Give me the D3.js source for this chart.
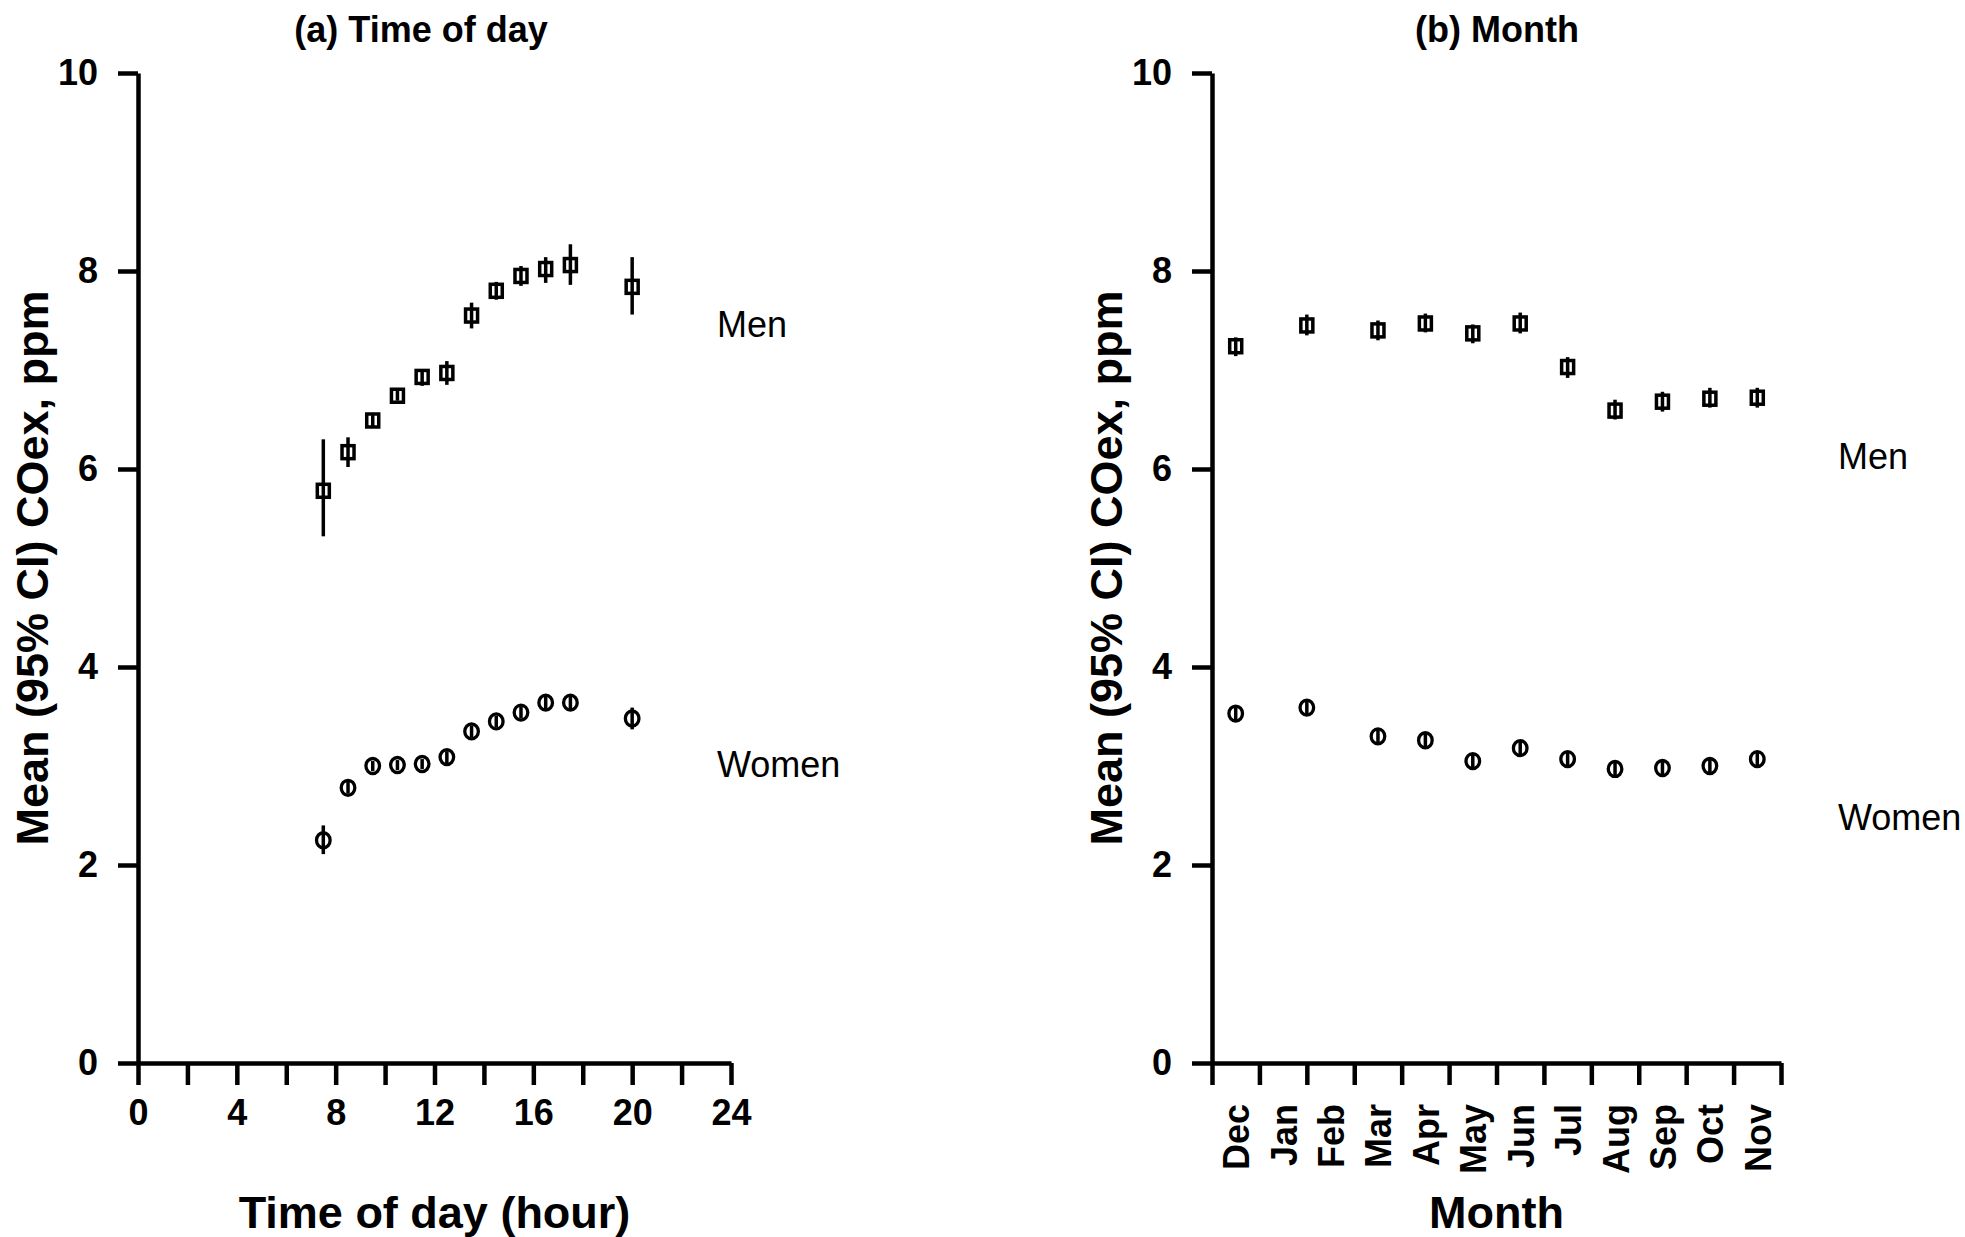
<!DOCTYPE html>
<html>
<head>
<meta charset="utf-8">
<script src="https://cdn.jsdelivr.net/npm/d3@7"></script>
<style>
  html, body { margin: 0; padding: 0; background: #fff; }
  svg { display: block; }
  text { font-family: "Liberation Sans", Arial, sans-serif; fill: #000; }
</style>
</head>
<body>
<svg id="chart" width="1965" height="1237"></svg>
<script>
// ---------- data ----------
const hours = [7.5, 8.5, 9.5, 10.5, 11.5, 12.5, 13.5, 14.5, 15.5, 16.5, 17.5, 20];
const menHourMean = [5.78, 6.17, 6.49, 6.74, 6.93, 6.97, 7.55, 7.80, 7.95, 8.02, 8.06, 7.84];
const menHourLo   = [5.32, 6.02, 6.43, 6.69, 6.84, 6.85, 7.42, 7.71, 7.85, 7.88, 7.86, 7.56];
const menHourHi   = [6.30, 6.32, 6.55, 6.79, 7.00, 7.09, 7.68, 7.89, 8.05, 8.14, 8.27, 8.14];
const womenHourMean = [2.25, 2.78, 3.00, 3.01, 3.02, 3.09, 3.35, 3.45, 3.54, 3.64, 3.64, 3.48];
const womenHourLo   = [2.11, 2.72, 2.95, 2.96, 2.97, 3.03, 3.29, 3.39, 3.48, 3.57, 3.57, 3.37];
const womenHourHi   = [2.40, 2.84, 3.05, 3.06, 3.07, 3.15, 3.41, 3.51, 3.60, 3.71, 3.71, 3.59];

const monthLabels = ["Dec","Jan","Feb","Mar","Apr","May","Jun","Jul","Aug","Sep","Oct","Nov"];
const monthPos = [0.5, 2, 3.5, 4.5, 5.5, 6.5, 7.5, 8.5, 9.5, 10.5, 11.5];
const menMonthMean = [7.24, 7.45, 7.40, 7.47, 7.37, 7.47, 7.03, 6.59, 6.68, 6.71, 6.72];
const menMonthLo   = [7.14, 7.35, 7.30, 7.38, 7.27, 7.37, 6.92, 6.50, 6.58, 6.62, 6.62];
const menMonthHi   = [7.33, 7.56, 7.50, 7.57, 7.46, 7.58, 7.13, 6.70, 6.78, 6.82, 6.82];
const womenMonthMean = [3.53, 3.59, 3.30, 3.26, 3.05, 3.18, 3.07, 2.97, 2.98, 3.00, 3.07];
const womenMonthLo   = [3.46, 3.52, 3.23, 3.19, 2.98, 3.11, 3.00, 2.90, 2.91, 2.93, 3.00];
const womenMonthHi   = [3.60, 3.66, 3.37, 3.33, 3.12, 3.25, 3.14, 3.04, 3.05, 3.07, 3.14];

const yTicks = [0, 2, 4, 6, 8, 10];
const hourTicks = d3.range(0, 25, 2);

// ---------- layout ----------
const svg = d3.select("#chart");
const AXW = 4.5;
const yTop = 73, yBot = 1063;

function styleAxis(g) {
  g.selectAll("path.domain").attr("stroke", "#000").attr("stroke-width", AXW);
  g.selectAll(".tick line").attr("stroke", "#000").attr("stroke-width", AXW);
  g.selectAll(".tick text")
    .style("font-family", '"Liberation Sans", Arial, sans-serif')
    .style("font-weight", "bold").style("font-size", "36px").attr("fill", "#000");
}

function makePanel(opts) {
  const x = d3.scaleLinear().domain(opts.xDomain).range(opts.xRange);
  const y = d3.scaleLinear().domain([0, 10]).range([yBot, yTop]);
  const g = svg.append("g");

  // y axis
  const ya = g.append("g").attr("transform", `translate(${opts.xRange[0]},0)`)
    .call(d3.axisLeft(y).tickValues(yTicks).tickSize(20).tickSizeOuter(0).tickPadding(20));
  styleAxis(ya);

  // x axis
  const xa = g.append("g").attr("transform", `translate(0,${yBot})`)
    .call(d3.axisBottom(x).tickValues(opts.xTicks).tickSize(22).tickSizeOuter(0)
      .tickPadding(14).tickFormat(opts.xFormat));
  styleAxis(xa);

  // title
  g.append("text").attr("x", opts.titleX).attr("y", 42)
    .attr("text-anchor", "middle").style("font-weight", "bold").style("font-size", "36px")
    .text(opts.title);

  // y label
  const ymid = (yTop + yBot) / 2;
  g.append("text")
    .attr("transform", `translate(${opts.xRange[0] - 90},${ymid}) rotate(-90)`)
    .attr("text-anchor", "middle").style("font-weight", "bold").style("font-size", "45px")
    .text("Mean (95% CI) COex, ppm");

  // x label
  g.append("text").attr("x", (opts.xRange[0] + opts.xRange[1]) / 2).attr("y", 1228)
    .attr("text-anchor", "middle").style("font-weight", "bold").style("font-size", "45px")
    .text(opts.xLabel);

  return { g, x, y };
}

function drawSeries(p, xs, mean, lo, hi, shape) {
  const pts = xs.map((v, i) => ({ x: v, m: mean[i], lo: lo[i], hi: hi[i] }));
  const mg = p.g.append("g");
  if (shape === "square") {
    mg.selectAll("rect").data(pts).join("rect")
      .attr("x", d => p.x(d.x) - 6).attr("y", d => p.y(d.m) - 6.5)
      .attr("width", 12).attr("height", 13)
      .attr("fill", "#fff").attr("stroke", "#000").attr("stroke-width", 3.5);
  } else {
    mg.selectAll("ellipse").data(pts).join("ellipse")
      .attr("cx", d => p.x(d.x)).attr("cy", d => p.y(d.m))
      .attr("rx", 6.8).attr("ry", 7.5)
      .attr("fill", "#fff").attr("stroke", "#000").attr("stroke-width", 3.3);
  }
  mg.selectAll("line.err").data(pts).join("line").attr("class", "err")
    .attr("x1", d => p.x(d.x)).attr("x2", d => p.x(d.x))
    .attr("y1", d => p.y(d.hi)).attr("y2", d => p.y(d.lo))
    .attr("stroke", "#000").attr("stroke-width", 3.5);
}

function seriesLabel(p, x, y, txt) {
  p.g.append("text").attr("x", x).attr("y", y)
    .style("font-size", "36px").style("font-weight", "normal").text(txt);
}

// ---------- panel a ----------
const pa = makePanel({
  xDomain: [0, 24], xRange: [138, 731], xTicks: hourTicks,
  xFormat: d => (d % 4 === 0 ? d : ""),
  title: "(a) Time of day", titleX: 421, xLabel: "Time of day (hour)"
});
drawSeries(pa, hours, menHourMean, menHourLo, menHourHi, "square");
drawSeries(pa, hours, womenHourMean, womenHourLo, womenHourHi, "circle");
seriesLabel(pa, 717, 337, "Men");
seriesLabel(pa, 717, 777, "Women");

// ---------- panel b ----------
const pb = makePanel({
  xDomain: [0, 12], xRange: [1212, 1781], xTicks: d3.range(0, 13, 1),
  xFormat: () => "",
  title: "(b) Month", titleX: 1497, xLabel: "Month"
});
// month labels at band centres
const mla = pb.g.append("g").attr("transform", `translate(0,${yBot})`)
  .call(d3.axisBottom(pb.x).tickValues(monthLabels.map((m, i) => i + 0.5))
    .tickSize(0).tickFormat((d, i) => monthLabels[i]));
mla.select("path.domain").remove();
mla.selectAll(".tick text")
  .style("font-family", '"Liberation Sans", Arial, sans-serif')
  .style("font-weight", "bold").style("font-size", "36px").attr("fill", "#000")
  .attr("text-anchor", "end")
  .attr("transform", "rotate(-90)")
  .attr("x", -41).attr("y", 0).attr("dy", "0.36em");

drawSeries(pb, monthPos, menMonthMean, menMonthLo, menMonthHi, "square");
drawSeries(pb, monthPos, womenMonthMean, womenMonthLo, womenMonthHi, "circle");
seriesLabel(pb, 1838, 469, "Men");
seriesLabel(pb, 1838, 830, "Women");
</script>
</body>
</html>
